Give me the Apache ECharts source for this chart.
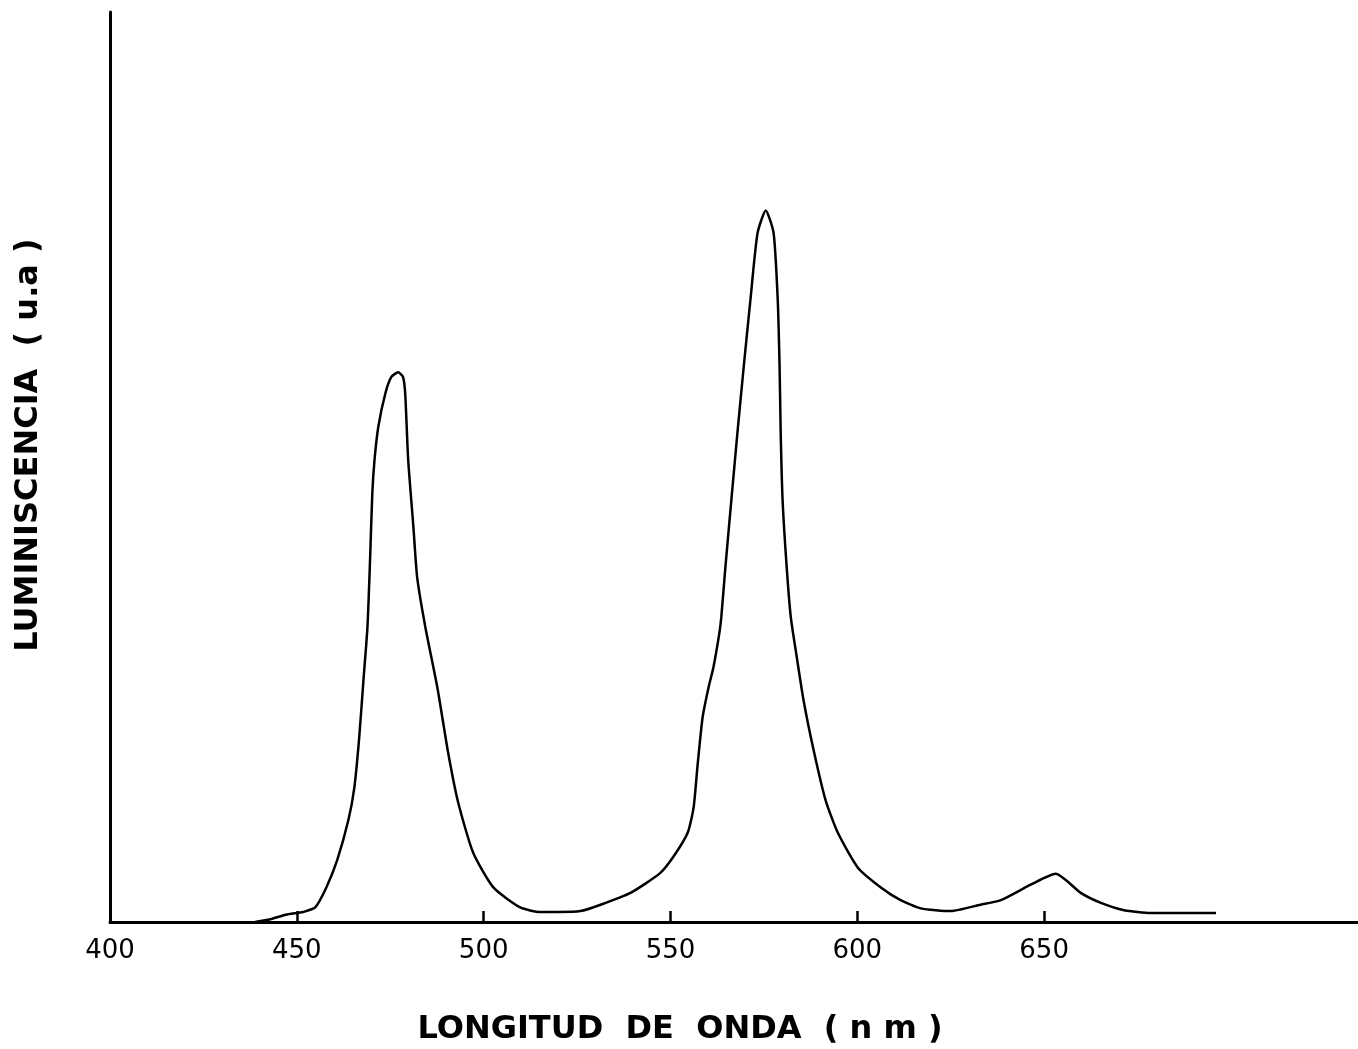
<!DOCTYPE html>
<html>
<head>
<meta charset="utf-8">
<script src="https://cdn.jsdelivr.net/npm/echarts@6/dist/echarts.min.js"></script>
<style>
html,body{margin:0;padding:0;background:#fff;}
#chart{width:1358px;height:1049px;}
</style>
</head>
<body>
<div id="chart"></div>
<script>
// Wavelength (nm) and luminescence (arbitrary units, 0-100)
const wavelength = [
  438.8, 442.9, 447.0, 450.1, 451.7, 454.9, 457.9, 460.8, 463.8, 465.4,
  466.7, 467.8, 468.9, 469.6, 470.2, 470.8, 471.8, 473.7, 475.3, 477.1,
  478.4, 479.0, 479.8, 481.2, 482.2, 484.4, 487.6, 490.5, 493.2, 497.2,
  502.6, 509.8, 515.2, 520.0, 525.9, 531.3, 539.3, 547.3, 551.0, 554.6,
  556.2, 557.2, 558.6, 560.2, 561.5, 563.1, 563.6, 564.7, 566.3, 567.9,
  569.6, 571.4, 573.3, 575.5, 577.6, 578.7, 579.2, 579.5, 580.0, 581.1,
  582.2, 583.5, 585.6, 588.3, 591.5, 594.8, 600.1, 606.3, 611.6, 617.0,
  625.0, 633.0, 638.4, 646.4, 653.1, 659.8, 665.2, 671.4, 678.6, 696.0
];
const luminescence = [
  0.0, 0.3, 0.8, 1.0, 1.1, 1.6, 3.8, 6.8, 11.2, 14.8,
  20.3, 26.4, 32.4, 39.8, 47.1, 50.8, 54.4, 58.1, 59.9, 60.4,
  59.9, 58.1, 50.8, 43.4, 37.9, 32.4, 25.8, 18.6, 13.1, 7.6,
  3.8, 1.6, 1.1, 1.1, 1.2, 1.9, 3.2, 5.4, 7.3, 9.8,
  12.6, 17.0, 22.5, 25.8, 28.0, 31.8, 33.5, 39.0, 46.4, 53.7,
  61.0, 68.4, 75.7, 78.2, 75.7, 68.4, 61.0, 53.7, 46.4, 39.0,
  33.5, 29.9, 24.4, 18.9, 13.4, 9.8, 6.0, 3.8, 2.4, 1.5,
  1.2, 1.9, 2.4, 4.1, 5.3, 3.2, 2.1, 1.3, 1.0, 1.0
];
const xTickValues = [400, 450, 500, 550, 600, 650];
const xAxisTitle = 'LONGITUD  DE  ONDA  ( n m )';
const yAxisTitle = 'LUMINISCENCIA  ( u.a )';

const seriesData = wavelength.map((w, i) => [w, luminescence[i]]);

const chart = echarts.init(document.getElementById('chart'));
chart.setOption({
  backgroundColor: '#ffffff',
  animation: false,
  grid: { left: 110, right: 0, top: 12, bottom: 127, containLabel: false, outerBoundsMode: 'none' },
  xAxis: {
    type: 'value',
    min: 400,
    max: 734,
    interval: 50,
    name: xAxisTitle,
    nameLocation: 'middle',
    nameGap: 92,
    nameTextStyle: {
      fontFamily: 'DejaVu Sans', fontSize: 32, fontWeight: 'bold', color: '#000',
      padding: [0, 108, 0, 0]
    },
    axisLine: { show: true, lineStyle: { color: '#000', width: 3 } },
    axisTick: { show: true, inside: true, length: 11, customValues: xTickValues,
      lineStyle: { color: '#000', width: 2.5 } },
    axisLabel: { show: true, customValues: xTickValues, margin: 16,
      fontFamily: 'DejaVu Sans', fontSize: 26, color: '#000' },
    splitLine: { show: false }
  },
  yAxis: {
    type: 'value',
    min: 0,
    max: 100,
    name: yAxisTitle,
    nameLocation: 'middle',
    nameGap: 65,
    nameRotate: 90,
    nameTextStyle: {
      fontFamily: 'DejaVu Sans', fontSize: 32, fontWeight: 'bold', color: '#000',
      padding: [0, 0, 0, 44]
    },
    axisLine: { show: true, lineStyle: { color: '#000', width: 3 } },
    axisTick: { show: false },
    axisLabel: { show: false },
    splitLine: { show: false }
  },
  series: [{
    type: 'line',
    data: seriesData,
    smooth: 0.2,
    showSymbol: false,
    lineStyle: { color: '#000', width: 2.5 }
  }]
});
</script>
</body>
</html>
